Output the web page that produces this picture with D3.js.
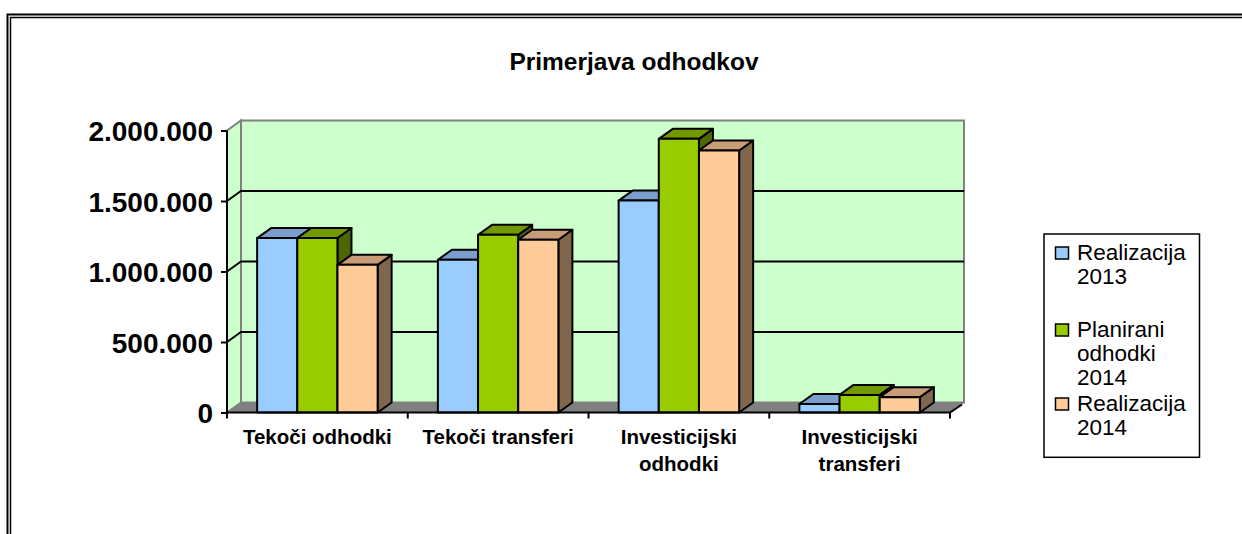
<!DOCTYPE html>
<html><head><meta charset="utf-8">
<script src="https://cdn.jsdelivr.net/npm/d3@7"></script>
<style>html,body{margin:0;padding:0;background:#fff;}svg{display:block;}</style>
</head><body>
<script>
const categories = [["Tekoči odhodki"], ["Tekoči transferi"], ["Investicijski", "odhodki"], ["Investicijski", "transferi"]];
const seriesNames = ["Realizacija 2013", "Planirani odhodki 2014", "Realizacija 2014"];
const legendLines = [["Realizacija", "2013"], ["Planirani", "odhodki", "2014"], ["Realizacija", "2014"]];
const real2013 = [1237000, 1083000, 1503000, 60000];
const plan2014 = [1238000, 1260000, 1941000, 125000];
const real2014 = [1047000, 1225000, 1858000, 109000];
const yTicks = [0, 500000, 1000000, 1500000, 2000000];
const title = "Primerjava odhodkov";

const seriesValues = [real2013, plan2014, real2014];
const colors = {
  front: ["#99CCFF", "#99CC00", "#FFCC99"],
  top: ["#7A9FCC", "#739900", "#C99C78"],
  side: ["#4D6680", "#4D6600", "#80664D"]
};

const W = 1242, H = 534;
const svg = d3.select("body").append("svg").attr("width", W).attr("height", H);
const FONT = "'Liberation Sans', Arial, sans-serif";

// outer double frame
svg.append("path").attr("d", `M7.5,${H+5} V14.5 H${W+5}`).attr("fill", "none").attr("stroke", "#000").attr("stroke-width", 2);
svg.append("path").attr("d", `M10.5,${H+5} V17.5 H${W+5}`).attr("fill", "none").attr("stroke", "#000").attr("stroke-width", 1.5);

// geometry
const x0 = 227, x1 = 950, yBottom = 412.5, yTop = 130.5;
const dx = 14, dy = -10;
const y = d3.scaleLinear().domain([0, 2000000]).range([yBottom, yTop]);
const xBand = d3.scaleBand().domain(d3.range(categories.length)).range([x0, x1]).padding(0);
const xSeries = d3.scaleBand().domain(d3.range(seriesNames.length)).range([0, xBand.bandwidth()]).paddingInner(0).paddingOuter(0.75);

const g = svg.append("g");
// back wall
g.append("rect").attr("x", x0 + dx).attr("y", y(2000000) + dy).attr("width", x1 - x0).attr("height", y(0) - y(2000000))
  .attr("fill", "#CCFFCC").attr("stroke", "#808080").attr("stroke-width", 2);
// side wall
g.append("polygon").attr("points", [[x0, y(2000000)], [x0 + dx, y(2000000) + dy], [x0 + dx, y(0) + dy], [x0, y(0)]].join(" "))
  .attr("fill", "#CCFFCC").attr("stroke", "#808080").attr("stroke-width", 2);
// floor
g.append("polygon").attr("points", [[x0, y(0)], [x1, y(0)], [x1 + dx, y(0) + dy], [x0 + dx, y(0) + dy]].join(" "))
  .attr("fill", "#808080").attr("stroke", "#808080").attr("stroke-width", 1);
// gridlines
g.selectAll(".grid").data(yTicks.filter(t => t > 0 && t < 2000000)).enter().append("polyline")
  .attr("points", d => [[x0, y(d)], [x0 + dx, y(d) + dy], [x1 + dx, y(d) + dy]].join(" "))
  .attr("fill", "none").attr("stroke", "#000").attr("stroke-width", 2);

// bars
const bars = g.append("g");
categories.forEach((c, ci) => {
  seriesValues.forEach((vals, si) => {
    const bx = xBand(ci) + xSeries(si), bw = xSeries.bandwidth();
    const yt = y(vals[ci]), yb = y(0);
    const bg = bars.append("g").attr("stroke", "#000").attr("stroke-width", 2).attr("stroke-linejoin", "round");
    bg.append("polygon").attr("points", [[bx + bw, yt], [bx + bw + dx, yt + dy], [bx + bw + dx, yb + dy], [bx + bw, yb]].join(" ")).attr("fill", colors.side[si]);
    bg.append("polygon").attr("points", [[bx, yt], [bx + dx, yt + dy], [bx + bw + dx, yt + dy], [bx + bw, yt]].join(" ")).attr("fill", colors.top[si]);
    bg.append("rect").attr("x", bx).attr("y", yt).attr("width", bw).attr("height", yb - yt).attr("fill", colors.front[si]);
  });
});

// y axis
const fmt = d3.formatLocale({decimal: ",", thousands: ".", grouping: [3], currency: ["", ""]}).format(",");
const yAxis = svg.append("g").attr("transform", `translate(${x0},0)`)
  .call(d3.axisLeft(y).tickValues(yTicks).tickFormat(fmt).tickSize(6).tickPadding(8));
yAxis.select(".domain").attr("stroke", "#000").attr("stroke-width", 2).attr("d", `M0,${yTop}V${yBottom}`);
yAxis.selectAll(".tick line").attr("stroke", "#000").attr("stroke-width", 2);
yAxis.selectAll(".tick text").attr("font-family", FONT).attr("font-weight", "bold").attr("font-size", 28).attr("fill", "#000").attr("dy", "0.36em");

// x axis
const xAxisG = svg.append("g");
xAxisG.append("path").attr("d", `M${x0},${yBottom}H${x1}L${x1 + dx - 2},${yBottom + dy + 2}`).attr("fill", "none").attr("stroke", "#000").attr("stroke-width", 2);
xAxisG.selectAll(".xt").data(d3.range(categories.length + 1)).enter().append("line")
  .attr("x1", d => x0 + d * xBand.step()).attr("x2", d => x0 + d * xBand.step())
  .attr("y1", yBottom).attr("y2", yBottom + 6).attr("stroke", "#000").attr("stroke-width", 2);
categories.forEach((lines, ci) => {
  const t = svg.append("text").attr("x", xBand(ci) + xBand.bandwidth() / 2).attr("y", 444)
    .attr("text-anchor", "middle").attr("font-family", FONT).attr("font-weight", "bold").attr("font-size", 20.5).attr("fill", "#000");
  lines.forEach((l, li) => t.append("tspan").attr("x", xBand(ci) + xBand.bandwidth() / 2).attr("y", 444 + li * 27).text(l));
});

// title
svg.append("text").attr("x", 634).attr("y", 70).attr("text-anchor", "middle").attr("font-family", FONT)
  .attr("font-weight", "bold").attr("font-size", 24.5).attr("fill", "#000").text(title);

// legend
const lg = svg.append("g");
lg.append("rect").attr("x", 1044).attr("y", 234).attr("width", 155.5).attr("height", 223.3).attr("fill", "#fff").attr("stroke", "#000").attr("stroke-width", 1.5);
const entryBase = [260, 337, 411];
legendLines.forEach((lines, i) => {
  lg.append("rect").attr("x", 1055.5).attr("y", entryBase[i] - 13).attr("width", 13).attr("height", 12)
    .attr("fill", colors.front[i]).attr("stroke", "#000").attr("stroke-width", 1.5);
  const t = lg.append("text").attr("font-family", FONT).attr("font-size", 22.5).attr("fill", "#000");
  lines.forEach((l, li) => t.append("tspan").attr("x", 1077).attr("y", entryBase[i] + li * 24).text(l));
});
</script>
</body></html>
